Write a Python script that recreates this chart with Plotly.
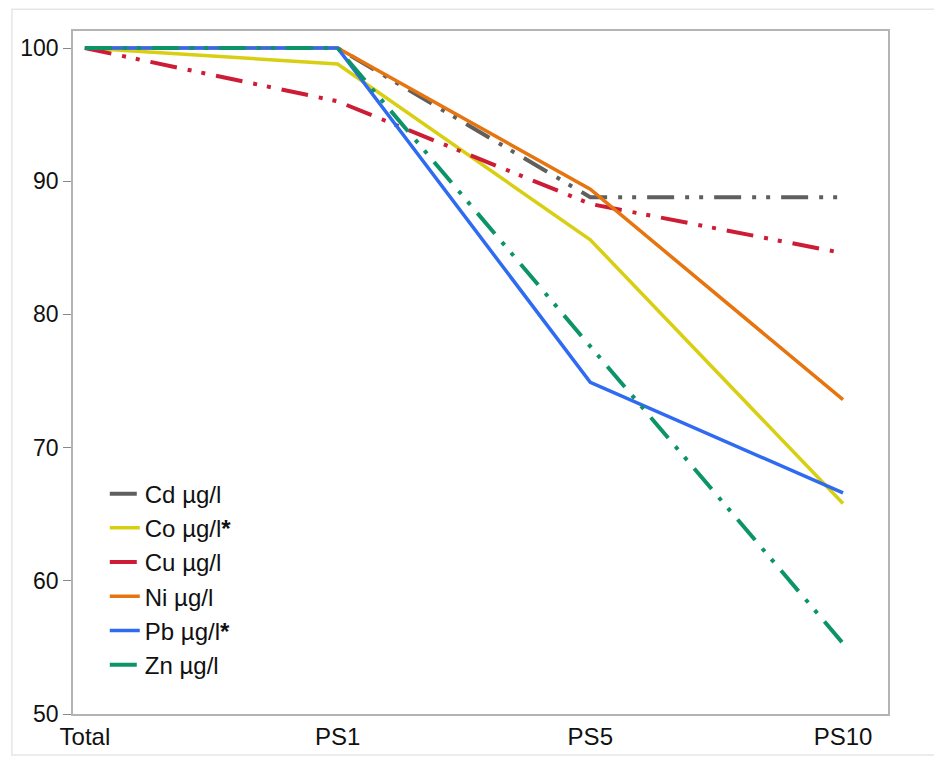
import plotly.graph_objects as go

categories = ["Total", "PS1", "PS5", "PS10"]
cd = [100, 100, 88.8, 88.8]
co = [100, 98.8, 85.6, 65.8]
cu = [100, 96.0, 88.3, 84.6]
ni = [100, 100, 89.4, 73.6]
pb = [100, 100, 74.9, 66.6]
zn = [100, 100, 77.6, 55.3]

series = [
    ("Cd µg/l", cd, "#5f5f5f", "27px,11px,4px,10px,4px,11px", 4),
    ("Co µg/l<b>*</b>", co, "#d9cf12", "solid", 3.5),
    ("Cu µg/l", cu, "#cc1c36", "27px,11px,4px,10px,4px,11px", 4),
    ("Ni µg/l", ni, "#e6740f", "solid", 3.5),
    ("Pb µg/l<b>*</b>", pb, "#2f6bf2", "solid", 3.5),
    ("Zn µg/l", zn, "#0c9468", "27px,11px,4px,10px,4px,11px", 4),
]

fig = go.Figure()
xs = list(range(len(categories)))
for name, vals, color, dash, w in series:
    fig.add_trace(go.Scatter(x=xs, y=vals, mode="lines", name=name,
                             line=dict(color=color, dash=dash, width=w)))

font = "Liberation Sans, Arial, sans-serif"
fig.update_layout(
    width=934, height=758,
    margin=dict(l=73, r=46, t=31, b=44),
    paper_bgcolor="white", plot_bgcolor="white",
    font=dict(family=font, size=24, color="#111111"),
    showlegend=True,
    legend=dict(x=0.039, y=0.355, xanchor="left", yanchor="top",
                bgcolor="rgba(0,0,0,0)", font=dict(size=24, family=font),
                itemwidth=30, tracegroupgap=0),
    xaxis=dict(range=[-0.047, 3.178], tickmode="array", tickvals=xs,
               ticktext=categories, showgrid=False, zeroline=False,
               showline=True, linecolor="#b4b4b4", linewidth=1.5, mirror=True,
               ticks="", automargin=False, tickfont=dict(size=24, family=font)),
    yaxis=dict(range=[50, 101.28], tickvals=[50, 60, 70, 80, 90, 100],
               showgrid=False, zeroline=False, showline=True,
               linecolor="#b4b4b4", linewidth=1.5, mirror=True,
               ticks="outside", ticklen=8, tickcolor="#888888", automargin=False,
               tickfont=dict(size=23, family=font)),
    shapes=[dict(type="rect", xref="paper", yref="paper",
                 x0=-0.075, x1=1.1, y0=-0.06, y1=1.032,
                 line=dict(color="#e6e6e6", width=1.5), layer="below")],
)

fig.write_html("out.html")
